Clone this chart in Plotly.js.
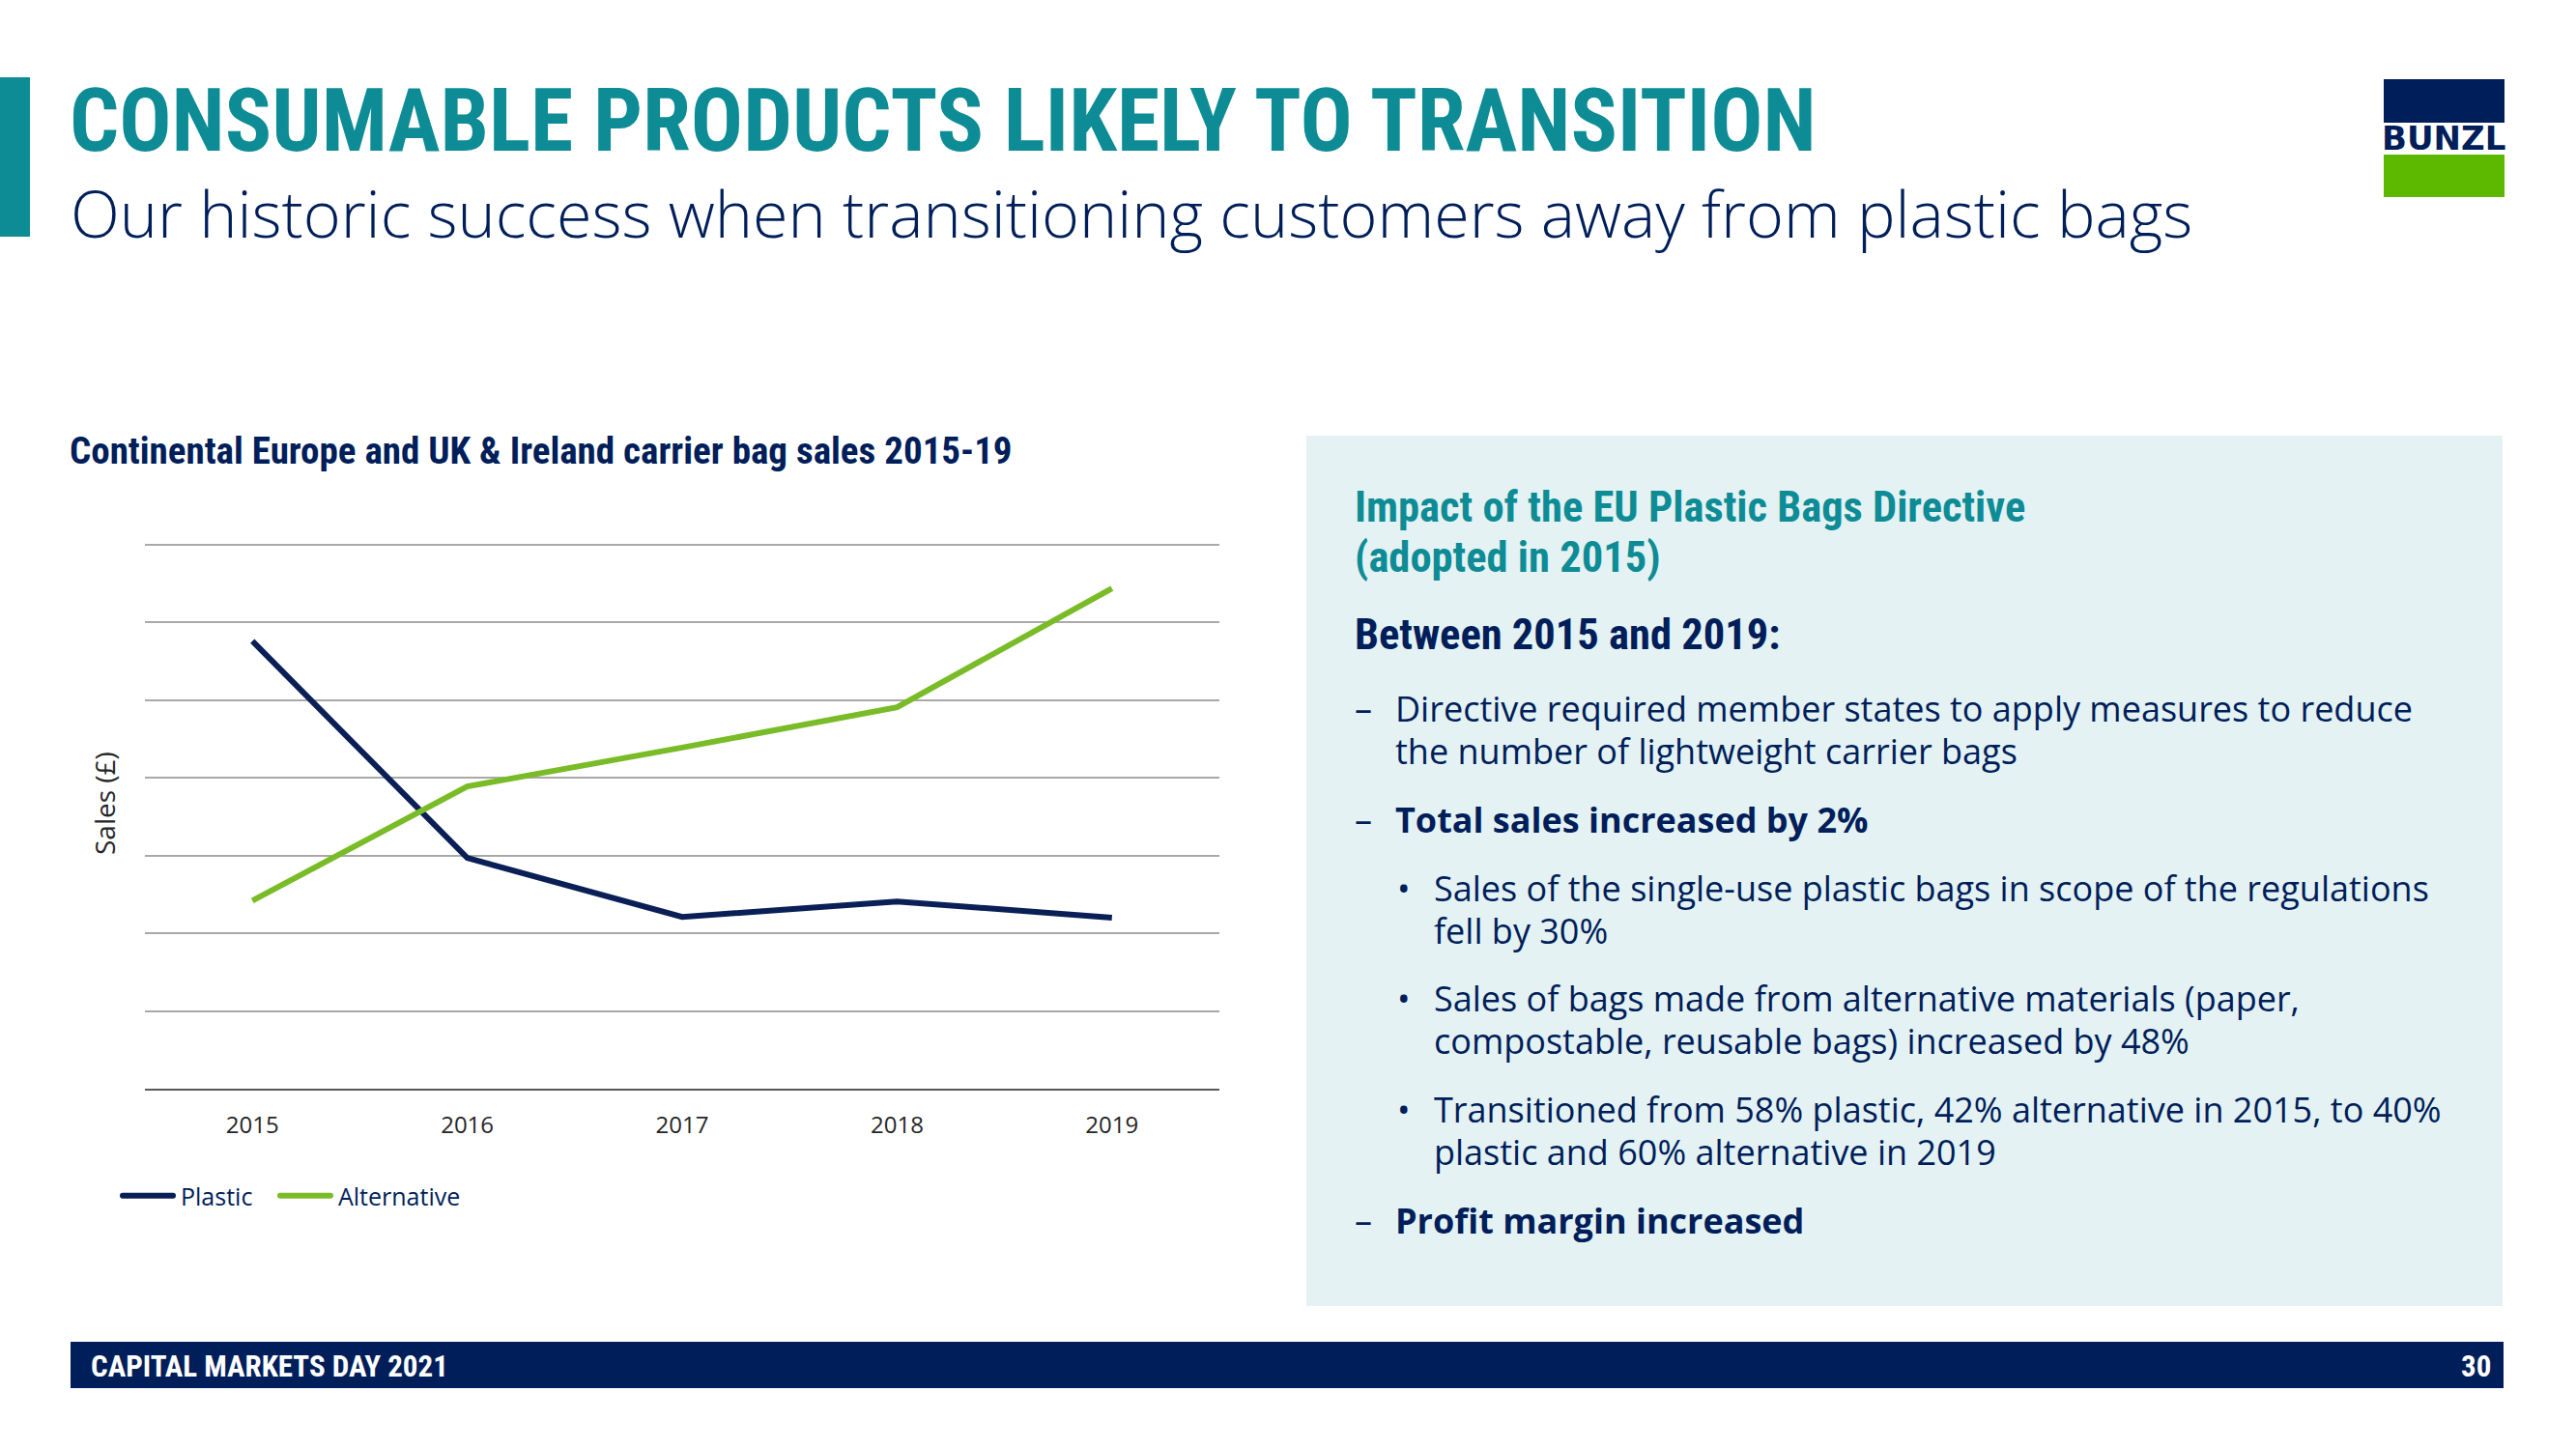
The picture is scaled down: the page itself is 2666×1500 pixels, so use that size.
<!DOCTYPE html>
<html>
<head>
<meta charset="utf-8">
<script src="https://cdn.plot.ly/plotly-3.0.1.min.js"></script>
<style>
  html, body { margin: 0; padding: 0; background: #ffffff; }
  #chart { width: 2666px; height: 1500px; }
</style>
</head>
<body>
<div id="chart"></div>
<script>
// ---- Data (y in gridline units, axis has no value labels) ----
const years = ["2015", "2016", "2017", "2018", "2019"];
const plastic = [5.76, 2.97, 2.21, 2.41, 2.20];
const alternative = [2.42, 3.89, 4.39, 4.91, 6.44];
const seriesNames = ["Plastic", "Alternative"];

const pageTitle = "CONSUMABLE PRODUCTS LIKELY TO TRANSITION";
const pageSubtitle = "Our historic success when transitioning customers away from plastic bags";
const chartTitle = "Continental Europe and UK &amp; Ireland carrier bag sales 2015-19";
const yTitle = "Sales (£)";
const footerLeft = "CAPITAL MARKETS DAY 2021";
const footerRight = "30";

// ---- Styling ----
const W = 2666, H = 1500;
const X = p => p / W;
const Y = p => 1 - p / H;
const NAVY = "#0B1F57";
const DARKNAVY = "#001E5A";
const GREEN = "#79BC27";
const TEAL = "#0E8C96";
const COND = "'Roboto Condensed', 'Liberation Sans Narrow', 'DejaVu Sans Condensed', 'Arial Narrow', sans-serif";
const BODY = "'Open Sans', 'Noto Sans', sans-serif";

const traces = [
  { x: years, y: plastic, name: seriesNames[0], type: "scatter", mode: "lines",
    line: { color: NAVY, width: 6 }, hoverinfo: "skip" },
  { x: years, y: alternative, name: seriesNames[1], type: "scatter", mode: "lines",
    line: { color: GREEN, width: 6 }, hoverinfo: "skip" }
];

const annotations = [];
function txt(text, x, y, size, color, family, opts) {
  annotations.push(Object.assign({
    text: text, xref: "paper", yref: "paper", x: X(x), y: Y(y),
    xanchor: "left", yanchor: "middle", showarrow: false,
    font: { size: size, color: color, family: family }
  }, opts || {}));
}

// Header
txt("<b>" + pageTitle + "</b>", 70, 126, 90, TEAL, COND);
txt(pageSubtitle, 71, 220, 66.5, DARKNAVY, BODY, { font: { size: 66.5, color: DARKNAVY, family: BODY, weight: 300 } });
// Logo text
txt("<b>BUNZL</b>", 2529, 143, 34, DARKNAVY, "'DejaVu Sans', sans-serif", { xanchor: "center" });
// Chart title
txt("<b>" + chartTitle + "</b>", 70, 467, 39, DARKNAVY, COND);
// Y axis title
txt(yTitle, 108, 832, 28, "#262626", BODY, { textangle: -90, xanchor: "center" });

// Right panel text
const bx = 1400, tx = 1442, bulx = 1444, btx = 1482;
txt("<b>Impact of the EU Plastic Bags Directive</b>", bx, 525, 44.5, TEAL, COND);
txt("<b>(adopted in 2015)</b>", bx, 577, 44.5, TEAL, COND);
txt("<b>Between 2015 and 2019:</b>", bx, 657, 44.5, DARKNAVY, COND);

const bodyLines = [
  ["–", "Directive required member states to apply measures to reduce", 733, "dash"],
  ["", "the number of lightweight carrier bags", 777, "dash"],
  ["–", "<b>Total sales increased by 2%</b>", 848, "dash"],
  ["•", "Sales of the single-use plastic bags in scope of the regulations", 919, "bullet"],
  ["", "fell by 30%", 963, "bullet"],
  ["•", "Sales of bags made from alternative materials (paper,", 1033, "bullet"],
  ["", "compostable, reusable bags) increased by 48%", 1077, "bullet"],
  ["•", "Transitioned from 58% plastic, 42% alternative in 2015, to 40%", 1148, "bullet"],
  ["", "plastic and 60% alternative in 2019", 1192, "bullet"],
  ["–", "<b>Profit margin increased</b>", 1263, "dash"]
];
bodyLines.forEach(l => {
  const mx = l[3] === "dash" ? bx : bulx;
  const t = l[3] === "dash" ? tx : btx;
  if (l[0]) txt(l[0], mx, l[2], 36, DARKNAVY, BODY);
  txt(l[1], t, l[2], 36, DARKNAVY, BODY);
});

// Footer
txt("<b>" + footerLeft + "</b>", 92, 1414, 31, "#ffffff", COND);
txt("<b>" + footerRight + "</b>", 2580, 1414, 31, "#ffffff", COND, { xanchor: "right" });

const shapes = [
  { type: "rect", xref: "paper", yref: "paper", x0: X(0), x1: X(31), y0: Y(80), y1: Y(245),
    fillcolor: TEAL, line: { width: 0 }, layer: "below" },
  { type: "rect", xref: "paper", yref: "paper", x0: X(2467), x1: X(2592), y0: Y(82), y1: Y(127),
    fillcolor: DARKNAVY, line: { width: 0 } },
  { type: "rect", xref: "paper", yref: "paper", x0: X(2467), x1: X(2592), y0: Y(160), y1: Y(204),
    fillcolor: "#5DB800", line: { width: 0 } },
  { type: "rect", xref: "paper", yref: "paper", x0: X(1352), x1: X(2590), y0: Y(451), y1: Y(1352),
    fillcolor: "#E4F2F3", line: { width: 0 }, layer: "below" },
  { type: "rect", xref: "paper", yref: "paper", x0: X(73), x1: X(2591), y0: Y(1389), y1: Y(1437),
    fillcolor: DARKNAVY, line: { width: 0 }, layer: "below" }
];

// y range slightly above 7 so the top gridline is drawn; domain extended to keep 7 at y=564px
const yMax = 7.04, unitPx = (1127 - 564) / 7;
const layout = {
  width: W, height: H,
  margin: { l: 0, r: 0, t: 0, b: 0 },
  paper_bgcolor: "#ffffff", plot_bgcolor: "rgba(0,0,0,0)",
  showlegend: true,
  legend: {
    orientation: "h", x: X(122), y: Y(1238), xanchor: "left", yanchor: "middle",
    font: { size: 25, color: DARKNAVY, family: BODY }, bgcolor: "rgba(0,0,0,0)",
    itemwidth: 55, entrywidth: 93, tracegroupgap: 0
  },
  xaxis: {
    domain: [X(150), X(1262)], type: "category", range: [-0.5, 4.5],
    showgrid: false, zeroline: false, showline: true, linecolor: "#595959", linewidth: 2,
    ticks: "", ticklabelstandoff: 15,
    tickfont: { size: 24, color: "#262626", family: BODY }, fixedrange: true
  },
  yaxis: {
    domain: [Y(1127), Y(564 - (yMax - 7) * unitPx)], range: [0, yMax], dtick: 1, tick0: 0,
    showticklabels: false, ticks: "", showgrid: true, gridcolor: "#A9A9A9", gridwidth: 2,
    zeroline: false, showline: false, fixedrange: true
  },
  annotations: annotations,
  shapes: shapes
};

Plotly.newPlot("chart", traces, layout, { staticPlot: true, displayModeBar: false }).then(gd => {
  // stretch legend line samples to the reference's longer swatches
  gd.querySelectorAll(".legendlines path").forEach(p => {
    p.setAttribute("d", "M5,0h52");
    p.style.strokeLinecap = "round";
  });
  // let the last legend label run past the fixed entry width instead of being clipped
  gd.querySelectorAll(".legend [clip-path]").forEach(el => el.removeAttribute("clip-path"));
});
</script>
</body>
</html>
